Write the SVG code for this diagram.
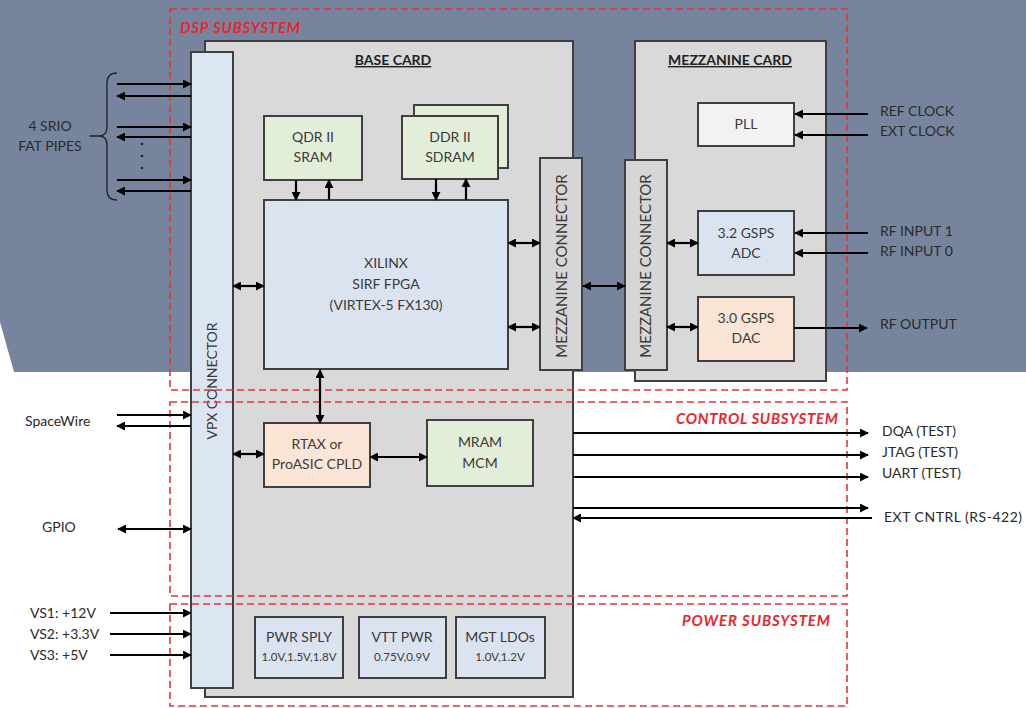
<svg xmlns="http://www.w3.org/2000/svg" width="1026" height="708" viewBox="0 0 1026 708">
<defs>
<marker id="ah" viewBox="0 0 10 10" refX="9" refY="5" markerWidth="9" markerHeight="9" markerUnits="userSpaceOnUse" orient="auto-start-reverse">
<path d="M0,0 L10,5 L0,10 z" fill="#000"/>
</marker>
<style>
.card{fill:#d9d9d9;stroke:#3f3f3f;stroke-width:2}
.conn{fill:#d6d6d6;stroke:#3f3f3f;stroke-width:2}
.vpx{fill:#dce6f2;stroke:#3f3f3f;stroke-width:2}
.blue{fill:#dce3f0;stroke:#3f3f3f;stroke-width:2}
.green{fill:#e3eed8;stroke:#3f3f3f;stroke-width:2}
.peach{fill:#fbe5d6;stroke:#3f3f3f;stroke-width:2}
.grey{fill:#f2f2f2;stroke:#3f3f3f;stroke-width:2}
.dash{fill:none;stroke:#e8323a;stroke-width:1.6;stroke-dasharray:7 4}
.w{stroke:#000;stroke-width:2.2;fill:none}
.one{marker-end:url(#ah)}
.two{marker-start:url(#ah);marker-end:url(#ah)}
text{font-family:Lato,"Liberation Sans",sans-serif;fill:#3a3a3a;font-size:14px}
.c{text-anchor:middle}
.t{font-weight:bold;text-decoration:underline;fill:#222}
.sub{font-weight:bold;font-style:italic;fill:#e8262c;font-size:15px}
.sm{font-size:11.5px}
.lab{fill:#2a2a2a}
.mz{font-size:15px}
</style>
</defs>
<polygon points="0,0 1026,0 1026,372 14,372 0,322" fill="#76859d"/>

<g id="base-card">
<rect class="card" x="205" y="41" width="368" height="656"/>
<text class="t c" x="393" y="65">BASE CARD</text>
</g>
<g id="mezzanine-card">
<rect class="card" x="635" y="41" width="191" height="340"/>
<text class="t c" x="730" y="65">MEZZANINE CARD</text>
</g>
<g id="vpx-connector">
<rect class="vpx" x="191" y="52" width="42" height="636"/>
<text class="c" transform="translate(217,381) rotate(-90)">VPX CONNECTOR</text>
</g>
<g id="qdr">
<rect class="green" x="264" y="116" width="98" height="64"/>
<text class="c" x="313" y="142">QDR II</text>
<text class="c" x="313" y="162">SRAM</text>
</g>
<g id="ddr">
<rect class="green" x="414" y="105" width="94" height="63"/>
<rect class="green" x="402" y="116" width="96" height="63"/>
<text class="c" x="450" y="142">DDR II</text>
<text class="c" x="450" y="162">SDRAM</text>
</g>
<g id="fpga">
<rect class="blue" x="264" y="200" width="244" height="169"/>
<text class="c" x="386" y="268">XILINX</text>
<text class="c" x="386" y="289">SIRF FPGA</text>
<text class="c" x="386" y="310">(VIRTEX-5 FX130)</text>
</g>
<g id="mezz-conn-base">
<rect class="conn" x="540" y="158" width="42" height="212"/>
<text class="c mz" transform="translate(567,266) rotate(-90)">MEZZANINE CONNECTOR</text>
</g>
<g id="mezz-conn-mezz">
<rect class="conn" x="625" y="160" width="42" height="210"/>
<text class="c mz" transform="translate(651,266) rotate(-90)">MEZZANINE CONNECTOR</text>
</g>
<g id="pll">
<rect class="grey" x="698" y="103" width="96" height="43"/>
<text class="c" x="746" y="129">PLL</text>
</g>
<g id="adc">
<rect class="blue" x="698" y="211" width="96" height="64"/>
<text class="c" x="746" y="238">3.2 GSPS</text>
<text class="c" x="746" y="258">ADC</text>
</g>
<g id="dac">
<rect class="peach" x="698" y="297" width="96" height="64"/>
<text class="c" x="746" y="323">3.0 GSPS</text>
<text class="c" x="746" y="343">DAC</text>
</g>
<g id="rtax">
<rect class="peach" x="264" y="423" width="106" height="64"/>
<text class="c" x="317" y="449">RTAX or</text>
<text class="c" x="317" y="469">ProASIC CPLD</text>
</g>
<g id="mram">
<rect class="green" x="427" y="420" width="106" height="66"/>
<text class="c" x="480" y="447">MRAM</text>
<text class="c" x="480" y="468">MCM</text>
</g>
<g id="pwr-sply">
<rect class="blue" x="255" y="617" width="88" height="61"/>
<text class="c" x="299" y="642">PWR SPLY</text>
<text class="c sm" x="299" y="661">1.0V,1.5V,1.8V</text>
</g>
<g id="vtt-pwr">
<rect class="blue" x="359" y="617" width="87" height="61"/>
<text class="c" x="402" y="642">VTT PWR</text>
<text class="c sm" x="402" y="661">0.75V,0.9V</text>
</g>
<g id="mgt-ldos">
<rect class="blue" x="456" y="617" width="89" height="61"/>
<text class="c" x="500" y="642">MGT LDOs</text>
<text class="c sm" x="500" y="661">1.0V,1.2V</text>
</g>

<g id="subsystems">
<path class="dash" d="M170,9 H847 V390 H170 Z"/>
<path class="dash" d="M170,402 H847 V596 H170 Z"/>
<path class="dash" d="M170,604 H847 V706 H170 Z"/>
<text class="sub" x="180" y="33" textLength="120">DSP SUBSYSTEM</text>
<text class="sub" x="676" y="424" textLength="162">CONTROL SUBSYSTEM</text>
<text class="sub" x="682" y="626" textLength="148">POWER SUBSYSTEM</text>
</g>

<g id="connectors">
<line class="w one" x1="117" y1="84" x2="191" y2="84"/>
<line class="w one" x1="191" y1="96" x2="117" y2="96"/>
<line class="w one" x1="117" y1="127" x2="191" y2="127"/>
<line class="w one" x1="191" y1="137" x2="117" y2="137"/>
<line class="w one" x1="117" y1="180" x2="191" y2="180"/>
<line class="w one" x1="191" y1="191" x2="117" y2="191"/>
<path d="M117,73 Q107,73 107,83 L107,127 Q107,136 99,136 L90,136 M99,136 Q107,136 107,145 L107,190 Q107,200 117,200" fill="none" stroke="#222" stroke-width="1.3"/>
<circle cx="142" cy="144" r="1.3" fill="#222"/>
<circle cx="142" cy="156" r="1.3" fill="#222"/>
<circle cx="142" cy="168" r="1.3" fill="#222"/>
<line class="w one" x1="296" y1="180" x2="296" y2="200"/>
<line class="w one" x1="329" y1="200" x2="329" y2="180"/>
<line class="w one" x1="436" y1="179" x2="436" y2="200"/>
<line class="w one" x1="466" y1="200" x2="466" y2="179"/>
<line class="w two" x1="233" y1="286" x2="264" y2="286"/>
<line class="w two" x1="508" y1="243" x2="540" y2="243"/>
<line class="w two" x1="508" y1="327" x2="540" y2="327"/>
<line class="w two" x1="583" y1="286" x2="625" y2="286"/>
<line class="w two" x1="667" y1="243" x2="698" y2="243"/>
<line class="w two" x1="667" y1="327" x2="698" y2="327"/>
<line class="w one" x1="868" y1="114" x2="795" y2="114"/>
<line class="w one" x1="868" y1="135" x2="795" y2="135"/>
<line class="w one" x1="868" y1="233" x2="795" y2="233"/>
<line class="w one" x1="868" y1="253" x2="795" y2="253"/>
<line class="w one" x1="794" y1="328" x2="867" y2="328"/>
<line class="w two" x1="320" y1="370" x2="320" y2="423"/>
<line class="w two" x1="233" y1="454" x2="264" y2="454"/>
<line class="w two" x1="370" y1="457" x2="427" y2="457"/>
<line class="w one" x1="117" y1="415" x2="191" y2="415"/>
<line class="w one" x1="191" y1="426" x2="117" y2="426"/>
<line class="w two" x1="118" y1="529" x2="191" y2="529"/>
<line class="w one" x1="573" y1="433" x2="868" y2="433"/>
<line class="w one" x1="573" y1="455" x2="868" y2="455"/>
<line class="w one" x1="573" y1="477" x2="868" y2="477"/>
<line class="w one" x1="573" y1="508" x2="868" y2="508"/>
<line class="w one" x1="872" y1="518" x2="573" y2="518"/>
<line class="w one" x1="110" y1="613" x2="191" y2="613"/>
<line class="w one" x1="110" y1="634" x2="191" y2="634"/>
<line class="w one" x1="110" y1="655" x2="191" y2="655"/>
</g>

<g id="labels">
<text class="c lab" x="50" y="131">4 SRIO</text>
<text class="c lab" x="50" y="151">FAT PIPES</text>
<text class="lab" x="880" y="116">REF CLOCK</text>
<text class="lab" x="880" y="136">EXT CLOCK</text>
<text class="lab" x="880" y="236">RF INPUT 1</text>
<text class="lab" x="880" y="256">RF INPUT 0</text>
<text class="lab" x="880" y="329">RF OUTPUT</text>
<text class="lab" x="25" y="426">SpaceWire</text>
<text class="lab" x="42" y="532">GPIO</text>
<text class="lab" x="882" y="436">DQA (TEST)</text>
<text class="lab" x="882" y="457">JTAG (TEST)</text>
<text class="lab" x="882" y="478">UART (TEST)</text>
<text class="lab" x="884" y="522" textLength="138">EXT CNTRL (RS-422)</text>
<text class="lab" x="30" y="618">VS1: +12V</text>
<text class="lab" x="30" y="639">VS2: +3.3V</text>
<text class="lab" x="30" y="660">VS3: +5V</text>
</g>
</svg>
